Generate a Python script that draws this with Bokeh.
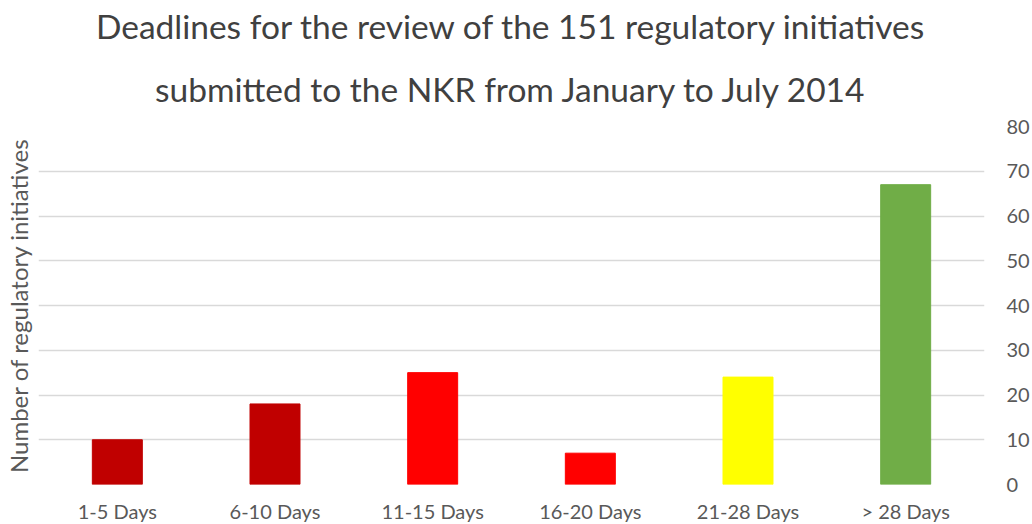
from bokeh.plotting import figure
from bokeh.models import ColumnDataSource, Range1d, FactorRange, LinearAxis, FixedTicker, Title
from bokeh.embed import file_html
from bokeh.resources import INLINE

categories = ["1-5 Days", "6-10 Days", "11-15 Days", "16-20 Days", "21-28 Days", "> 28 Days"]
values = [10, 18, 25, 7, 24, 67]
colors = ["#C00000", "#C00000", "#FF0000", "#FF0000", "#FFFF00", "#70AD47"]
y_ticks = [0, 10, 20, 30, 40, 50, 60, 70, 80]
title_lines = ["Deadlines for the review of the 151 regulatory initiatives",
               "submitted to the NKR from January to July 2014"]
y_label = "Number of regulatory initiatives"

FONT = "Lato"
GREY = "#595959"

src = ColumnDataSource(dict(cat=categories, val=values, color=colors))

p = figure(frame_width=946, frame_height=358,
           x_range=FactorRange(*categories, range_padding=0),
           y_range=Range1d(0, 80), y_axis_location="right",
           output_backend="svg", toolbar_location=None,
           min_border_left=38, min_border_right=0, min_border_top=126, min_border_bottom=0)

p.vbar(x="cat", top="val", width=0.317, color="color", source=src)

p.outline_line_color = None
p.background_fill_color = "white"
p.border_fill_color = "white"
p.xgrid.grid_line_color = None
p.ygrid.grid_line_color = "#D9D9D9"
p.ygrid.grid_line_width = 1.5

ya = p.yaxis[0]
ya.ticker = FixedTicker(ticks=y_ticks)
ya.axis_line_color = None
ya.major_tick_line_color = None
ya.minor_tick_line_color = None
ya.major_tick_out = 0
ya.major_tick_in = 0
ya.major_label_standoff = 22
ya.major_label_text_font = FONT
ya.major_label_text_font_size = "20px"
ya.major_label_text_color = GREY

xa = p.xaxis[0]
xa.axis_line_color = None
xa.major_tick_line_color = None
xa.minor_tick_line_color = None
xa.major_tick_out = 0
xa.major_tick_in = 0
xa.major_label_standoff = 14
xa.major_label_text_font = FONT
xa.major_label_text_font_size = "20px"
xa.major_label_text_color = GREY

la = LinearAxis(ticker=FixedTicker(ticks=[]), axis_label=y_label)
la.axis_line_color = None
la.major_tick_line_color = None
la.minor_tick_line_color = None
la.major_tick_out = 0
la.major_tick_in = 0
la.major_label_standoff = 0
la.axis_label_text_font = FONT
la.axis_label_text_font_size = "24px"
la.axis_label_text_font_style = "normal"
la.axis_label_text_color = GREY
la.axis_label_standoff = 6
p.add_layout(la, "left")

t2 = Title(text=title_lines[1], align="center", text_font=FONT, text_font_size="33.5px",
           text_font_style="normal", text_color="#404040", standoff=36)
t1 = Title(text=title_lines[0], align="center", text_font=FONT, text_font_size="33.5px",
           text_font_style="normal", text_color="#404040", standoff=6, text_line_height=0.75)
p.add_layout(t2, "above")
p.add_layout(t1, "above")

open("out.html", "w").write(file_html(p, INLINE))
